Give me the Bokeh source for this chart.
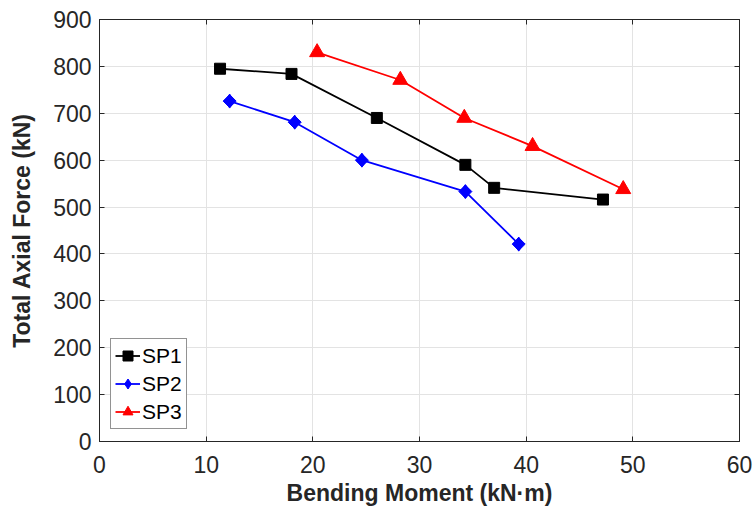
import math
from bokeh.plotting import figure
from bokeh.models import LinearAxis, FixedTicker, Range1d
from bokeh.embed import file_html
from bokeh.resources import INLINE

sp1_x = [11.3, 18.0, 26.0, 34.3, 37.0, 47.2]
sp1_y = [795, 784, 690, 590, 541, 516]
sp2_x = [12.2, 18.3, 24.6, 34.3, 39.3]
sp2_y = [726, 681, 600, 533, 421]
sp3_x = [20.4, 28.2, 34.2, 40.6, 49.1]
sp3_y = [830, 771, 690, 630, 538]

x_ticks = [0, 10, 20, 30, 40, 50, 60]
y_ticks = [0, 100, 200, 300, 400, 500, 600, 700, 800, 900]

FONT = "Liberation Sans"
TXT = "#262626"

p = figure(width=753, height=508, output_backend="svg", toolbar_location=None,
           x_range=Range1d(0, 60), y_range=Range1d(0, 900),
           frame_width=640, frame_height=422,
           min_border_left=99, min_border_right=14, min_border_top=19, min_border_bottom=67)

p.line(sp1_x, sp1_y, color="black", line_width=1.8, legend_label="SP1")
p.scatter(sp1_x, sp1_y, marker="square", size=11, color="black", legend_label="SP1")
p.line(sp2_x, sp2_y, color="blue", line_width=1.8, legend_label="SP2")
p.scatter(sp2_x, sp2_y, marker="diamond", size=14, color="blue", legend_label="SP2")
p.scatter(sp2_x, sp2_y, marker="square", angle=math.pi / 4, size=9.2, color="blue")
p.line(sp3_x, sp3_y, color="red", line_width=1.8, legend_label="SP3")
p.scatter(sp3_x, sp3_y, marker="triangle", size=15, color="red", legend_label="SP3")

for ax in (p.xaxis[0], p.yaxis[0]):
    ax.major_label_text_font = FONT
    ax.major_label_text_font_size = "23px"
    ax.major_label_text_color = TXT
    ax.major_label_text_line_height = 1.0
    ax.axis_label_text_font = FONT
    ax.axis_label_text_font_size = "23px"
    ax.axis_label_text_font_style = "bold"
    ax.axis_label_text_color = TXT
    ax.axis_label_text_line_height = 1.0
    ax.major_tick_in = 5
    ax.major_tick_out = 0
    ax.minor_tick_line_color = None
    ax.axis_line_color = "#262626"
    ax.major_tick_line_color = "#262626"

p.xaxis[0].ticker = FixedTicker(ticks=x_ticks)
p.yaxis[0].ticker = FixedTicker(ticks=y_ticks)
p.xaxis.axis_label = "Bending Moment (kN·m)"
p.yaxis.axis_label = "Total Axial Force (kN)"
p.xaxis[0].major_label_standoff = 14
p.yaxis[0].major_label_standoff = 8
p.xaxis[0].axis_label_standoff = 4
p.yaxis[0].axis_label_standoff = 15

for loc, ticks in (("right", y_ticks), ("above", x_ticks)):
    ax = LinearAxis(ticker=FixedTicker(ticks=ticks), major_label_text_font_size="0px",
                    major_tick_in=5, major_tick_out=0, minor_tick_line_color=None,
                    axis_line_color="#262626", major_tick_line_color="#262626",
                    major_label_standoff=0)
    p.add_layout(ax, loc)

p.xgrid.ticker = FixedTicker(ticks=x_ticks)
p.ygrid.ticker = FixedTicker(ticks=y_ticks)
p.grid.grid_line_color = "#e3e3e3"
p.outline_line_color = "#262626"

lg = p.legend[0]
lg.location = (11, 12)
lg.label_text_font = FONT
lg.label_text_font_size = "21px"
lg.label_text_color = "black"
lg.glyph_width = 25
lg.glyph_height = 25
lg.label_height = 25
lg.spacing = 3
lg.padding = 4
lg.margin = 0
lg.label_standoff = 2
lg.border_line_color = "#262626"
lg.border_line_width = 1
lg.background_fill_alpha = 1

open("out.html", "w").write(file_html(p, INLINE))
